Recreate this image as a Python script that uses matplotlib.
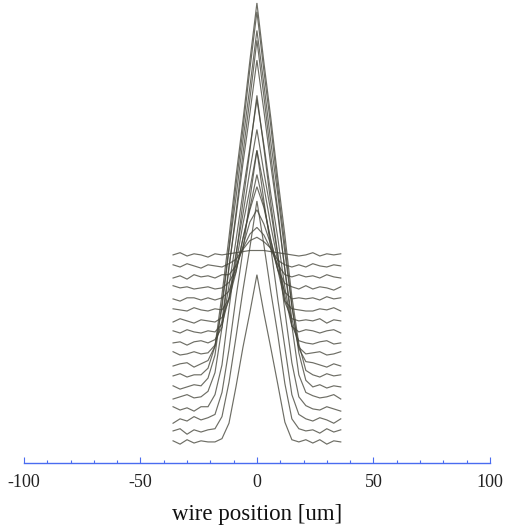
import matplotlib
matplotlib.use("Agg")
import matplotlib.pyplot as plt
from matplotlib.ticker import MultipleLocator

plt.rcParams["axes.unicode_minus"] = False

# wire position of each sample [um]
positions = [-36, -33, -30, -27, -24, -21, -18, -15, -12, -9, -6, -3, 0,
             3, 6, 9, 12, 15, 18, 21, 24, 27, 30, 33, 36]

# signal of each scan, relative to its own baseline (bottom scan first)
scans = [
    [0.2, -0.1, 0.3, 0.0, 0.2, 0.1, 0.1, 0.4, 1.8, 5.1, 8.7, 11.9, 15.3, 11.8, 8.6, 5.3, 1.9, 0.3, 0.1, 0.3, 0.0, 0.3, -0.1, 0.2, 0.1],
    [0.1, 0.3, -0.2, 0.2, 0.0, 0.2, 0.3, 1.4, 4.5, 8.6, 12.9, 16.8, 21.0, 17.0, 12.7, 8.8, 4.4, 1.2, 0.3, 0.1, 0.2, -0.1, 0.3, 0.0, 0.2],
    [-0.2, 0.2, 0.0, 0.4, 0.1, 0.3, 0.6, 2.6, 6.5, 11.2, 15.5, 20.2, 24.6, 20.0, 15.7, 11.0, 6.7, 2.4, 0.6, 0.2, 0.0, 0.3, 0.1, -0.2, 0.2],
    [0.3, 0.0, 0.2, -0.1, 0.3, 0.3, 1.4, 4.1, 9.2, 13.9, 18.9, 23.6, 28.6, 23.8, 18.7, 14.1, 9.0, 4.3, 1.2, 0.4, 0.1, 0.0, 0.3, 0.1, -0.1],
    [0.0, 0.2, 0.4, 0.1, 0.2, 0.7, 2.4, 6.5, 11.9, 16.9, 22.3, 27.3, 32.6, 27.5, 22.1, 17.1, 11.7, 6.7, 2.2, 0.6, 0.3, 0.1, 0.2, 0.4, 0.0],
    [0.2, -0.1, 0.1, 0.3, 0.2, 0.9, 3.0, 7.7, 12.8, 18.4, 23.5, 29.0, 34.2, 28.8, 23.7, 18.2, 13.0, 7.5, 3.2, 0.7, 0.1, 0.3, 0.0, 0.2, 0.1],
    [0.1, 0.3, 0.0, 0.2, 0.2, 0.8, 2.8, 7.5, 12.7, 18.2, 23.3, 28.8, 34.0, 28.6, 23.5, 18.0, 12.9, 7.3, 3.0, 0.6, 0.2, 0.0, 0.3, 0.1, 0.2],
    [0.0, 0.2, 0.3, -0.1, 0.2, 0.5, 1.8, 5.3, 10.5, 15.3, 20.5, 25.4, 30.5, 25.6, 20.3, 15.5, 10.3, 5.5, 1.6, 0.4, 0.3, 0.1, -0.1, 0.2, 0.0],
    [0.3, 0.0, 0.1, 0.3, 0.1, 0.2, 0.9, 3.1, 8.0, 12.5, 17.4, 22.0, 26.8, 22.2, 17.2, 12.7, 7.8, 3.3, 0.7, 0.1, 0.2, 0.3, 0.0, 0.1, 0.3],
    [0.1, 0.2, -0.1, 0.2, 0.3, 0.1, 0.4, 1.5, 5.3, 9.4, 13.8, 17.9, 22.2, 18.1, 13.6, 9.6, 5.1, 1.7, 0.3, 0.1, 0.0, 0.2, 0.3, 0.0, 0.1],
    [0.2, 0.0, 0.3, 0.1, 0.0, 0.2, 0.1, 0.8, 3.2, 7.2, 10.8, 14.8, 18.5, 14.6, 11.0, 7.0, 3.4, 0.6, 0.1, 0.3, 0.2, 0.0, 0.2, 0.3, 0.0],
    [0.0, 0.3, 0.1, -0.1, 0.2, 0.1, 0.0, 0.4, 2.0, 5.3, 8.9, 12.1, 15.6, 12.3, 8.7, 5.5, 1.8, 0.3, 0.1, 0.2, 0.1, 0.3, -0.1, 0.2, 0.1],
    [0.2, 0.1, 0.0, 0.3, 0.1, 0.0, 0.2, 0.1, 1.1, 3.5, 6.6, 9.4, 12.4, 9.6, 6.4, 3.7, 0.9, 0.2, 0.1, 0.0, 0.0, 0.2, 0.1, 0.3, 0.0],
    [0.1, -0.1, 0.2, 0.2, 0.0, 0.2, 0.0, 0.2, 0.8, 2.6, 5.6, 8.2, 10.3, 8.4, 5.4, 2.8, 0.7, 0.1, 0.2, 0.1, 0.2, 0.0, 0.3, 0.1, 0.2],
    [0.3, 0.1, 0.2, 0.0, 0.1, 0.2, 0.0, 0.1, 0.6, 1.8, 3.9, 6.1, 7.2, 5.9, 4.0, 1.7, 0.5, 0.2, 0.0, 0.3, 0.0, 0.2, 0.1, -0.1, 0.2],
    [0.0, 0.2, -0.1, 0.3, 0.1, 0.2, 0.0, 0.3, 0.3, 1.1, 2.7, 4.0, 4.6, 3.9, 2.6, 1.2, 0.3, 0.1, 0.3, 0.1, 0.2, 0.0, 0.3, 0.1, 0.0],
    [0.2, 0.0, 0.3, 0.1, -0.1, 0.2, 0.1, 0.0, 0.3, 0.7, 1.6, 2.4, 2.7, 2.3, 1.7, 0.6, 0.2, 0.0, 0.2, 0.0, 0.3, 0.1, 0.0, 0.2, 0.1],
    [0.1, 0.3, 0.0, 0.2, 0.1, -0.1, 0.2, 0.1, 0.2, 0.3, 0.4, 0.5, 0.5, 0.5, 0.4, 0.3, 0.2, 0.1, 0.0, 0.1, 0.3, 0.0, 0.2, 0.1, 0.2],
]

x_ticks = [-100, -50, 0, 50, 100]
x_label = "wire position [um]"

fig = plt.figure(figsize=(5.05, 5.25), dpi=100)
ax = fig.add_axes([0.0475, 0.118, 0.9225, 0.882])

step = 1.0  # vertical separation between successive scans
for i, scan in enumerate(scans):
    ax.plot(positions, [v + i * step for v in scan],
            color="#45453a", lw=0.85, alpha=0.78, solid_joinstyle="miter")

ax.set_xlim(-100, 100)
ax.set_ylim(-1.82, 40.27)

for side in ("left", "right", "top"):
    ax.spines[side].set_visible(False)
ax.spines["bottom"].set_color("#4a6cf0")
ax.spines["bottom"].set_linewidth(1.0)

ax.set_yticks([])
ax.set_xticks(x_ticks)
ax.xaxis.set_minor_locator(MultipleLocator(10))
ax.tick_params(axis="x", which="major", direction="in", length=4,
               width=0.8, color="#4a6cf0", pad=8)
ax.tick_params(axis="x", which="minor", direction="in", length=2.5,
               width=0.8, color="#4a6cf0")
for lbl in ax.get_xticklabels():
    lbl.set_family("Liberation Serif")
    lbl.set_fontsize(13)
    lbl.set_color("#222222")

ax.set_xlabel(x_label, family="Liberation Serif", fontsize=16.5,
              color="#111111", labelpad=9)

fig.savefig("out.png", dpi=100)
